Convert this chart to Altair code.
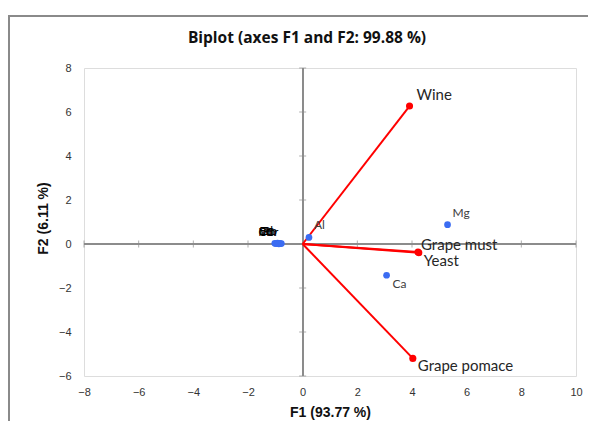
import altair as alt
import pandas as pd

title_text = "Biplot (axes F1 and F2: 99.88 %)"

# Active variables (red vectors)
var_names = ["Wine", "Grape must", "Yeast", "Grape pomace"]
var_f1 = [3.91, 4.22, 4.25, 4.03]
var_f2 = [6.27, -0.36, -0.40, -5.20]

# Observations (blue points)
obs_names = ["Al", "Mg", "Ca", "Fe", "Cu", "Zn", "Mn", "Pb", "Cr"]
obs_f1 = [0.23, 5.30, 3.07, -1.02, -0.97, -0.92, -0.87, -0.83, -0.78]
obs_f2 = [0.30, 0.88, -1.42, 0.03, 0.02, 0.04, 0.01, 0.03, 0.02]

x_ticks = [-8, -6, -4, -2, 0, 2, 4, 6, 8, 10]
y_ticks = [-6, -4, -2, 0, 2, 4, 6, 8]

var_df = pd.DataFrame({"name": var_names, "F1": var_f1, "F2": var_f2})
obs_df = pd.DataFrame({"name": obs_names, "F1": obs_f1, "F2": obs_f2})
xt_df = pd.DataFrame({"v": x_ticks})
yt_df = pd.DataFrame({"v": y_ticks})
title_df = pd.DataFrame({"t": [title_text]})

W, H = 492, 308
PL, PT, PR, PB = 76, 60, 12, 45

xscale = alt.Scale(domain=[-8, 10], nice=False, zero=False)
yscale = alt.Scale(domain=[-6, 8], nice=False, zero=False)

xaxis = alt.Axis(values=x_ticks, grid=False, domain=False, ticks=False,
                 labelPadding=10, labelFont="Liberation Sans", labelFontSize=11,
                 labelColor="#333333", title="F1 (93.77 %)", titleFont="Liberation Sans",
                 titleFontSize=14, titleFontWeight="bold", titleColor="#111111",
                 titleY=36, titleBaseline="middle", labelFlush=False)
yaxis = alt.Axis(values=y_ticks, grid=False, domain=False, ticks=False,
                 labelPadding=13, labelFont="Liberation Sans", labelFontSize=11,
                 labelColor="#333333", title="F2 (6.11 %)", titleFont="Liberation Sans",
                 titleFontSize=14, titleFontWeight="bold", titleColor="#111111",
                 titleX=-41, titleY=150, titleBaseline="middle", titleAngle=270,
                 labelFlush=False)

base_var = alt.Chart(var_df)
base_obs = alt.Chart(obs_df)

zero_h = alt.Chart(xt_df).mark_rule(color="#8c8c8c", strokeWidth=1.3).encode(y=alt.datum(0))
zero_v = alt.Chart(xt_df).mark_rule(color="#8c8c8c", strokeWidth=1.3).encode(x=alt.datum(0))

xt = alt.Chart(xt_df).mark_tick(orient="vertical", size=7, thickness=1, color="#8c8c8c").encode(
    x=alt.X("v:Q", scale=xscale, axis=xaxis), y=alt.datum(0, scale=yscale))
yt = alt.Chart(yt_df).mark_tick(orient="horizontal", size=7, thickness=1, color="#8c8c8c").encode(
    y=alt.Y("v:Q", scale=yscale, axis=yaxis), x=alt.datum(0))

vec = base_var.transform_calculate(z="0").mark_rule(color="#ff0000", strokeWidth=2).encode(
    x=alt.X("F1:Q", scale=xscale), y=alt.Y("F2:Q", scale=yscale),
    x2="z:Q", y2="z:Q")
var_pts = base_var.mark_circle(color="#ff0000", size=50, opacity=1).encode(
    x=alt.X("F1:Q", scale=xscale), y=alt.Y("F2:Q", scale=yscale))

lbl_font = dict(font="Lato", fontSize=15, color="#262626", align="left", baseline="middle")
var_up = base_var.transform_filter(
    alt.FieldOneOfPredicate(field="name", oneOf=["Wine"])
).mark_text(dx=7, dy=-11, **lbl_font).encode(x="F1:Q", y="F2:Q", text="name:N")
var_must = base_var.transform_filter(
    alt.FieldOneOfPredicate(field="name", oneOf=["Grape must"])
).mark_text(dx=3, dy=-7, **lbl_font).encode(x="F1:Q", y="F2:Q", text="name:N")
var_down = base_var.transform_filter(
    alt.FieldOneOfPredicate(field="name", oneOf=["Yeast", "Grape pomace"])
).mark_text(dx=5, dy=8, **lbl_font).encode(x="F1:Q", y="F2:Q", text="name:N")

obs_pts = base_obs.mark_circle(color="#3b6cf2", size=45, opacity=1).encode(
    x=alt.X("F1:Q", scale=xscale), y=alt.Y("F2:Q", scale=yscale))

obs_font = dict(font="Lato", fontSize=12, color="#404040", baseline="middle")
obs_up = base_obs.transform_filter(
    alt.FieldOneOfPredicate(field="name", oneOf=["Al", "Mg"])
).mark_text(dx=5, dy=-12, align="left", **obs_font).encode(x="F1:Q", y="F2:Q", text="name:N")
obs_down = base_obs.transform_filter(
    alt.FieldOneOfPredicate(field="name", oneOf=["Ca"])
).mark_text(dx=6, dy=9, align="left", **obs_font).encode(x="F1:Q", y="F2:Q", text="name:N")
obs_cluster = base_obs.transform_filter(
    alt.FieldOneOfPredicate(field="name", oneOf=["Fe", "Cu", "Zn", "Mn", "Pb", "Cr"])
).mark_text(dx=-3, dy=-12, align="right", font="Lato", fontSize=12, color="#000000",
            baseline="middle").encode(x="F1:Q", y="F2:Q", text="name:N")

# chart title (drawn as text so the frame lines do not push it away)
title_mark = alt.Chart(title_df).mark_text(
    font="Open Sans", fontSize=15.5, fontWeight="bold", color="#111111",
    align="center", baseline="middle"
).encode(x=alt.value(223), y=alt.value(-30), text="t:N")

# outer frame of the figure
frame_l = alt.Chart(xt_df).mark_rule(color="#8a8a8a", strokeWidth=2).encode(
    x=alt.value(-PL + 1), y=alt.value(-PT + 8), y2=alt.value(H + PB))
frame_t = alt.Chart(xt_df).mark_rule(color="#8a8a8a", strokeWidth=2).encode(
    x=alt.value(-PL), x2=alt.value(W + PR), y=alt.value(-PT + 8))

chart = alt.layer(
    frame_l, frame_t, zero_h, zero_v, xt, yt, vec, var_pts, obs_pts,
    var_up, var_must, var_down, obs_up, obs_down, obs_cluster, title_mark
).properties(
    width=W, height=H,
    autosize=alt.AutoSizeParams(type="none"),
    padding={"left": PL, "top": PT, "right": PR, "bottom": PB},
).configure_view(stroke="#a6a6a6", strokeWidth=1).configure(background="white")

chart.save("out.html", embed_options={"renderer": "svg", "actions": False})
